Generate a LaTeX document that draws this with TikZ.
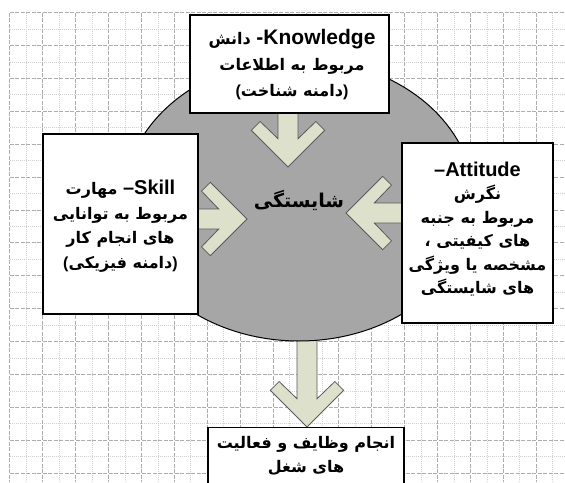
\documentclass[tikz,border=0pt]{standalone}
\usepackage{fontspec}
\usetikzlibrary{shapes.geometric}
\newfontfamily\fa[Script=Arabic]{DejaVu Sans}
\newfontfamily\en{Liberation Sans}
\TeXXeTstate=1
\newcommand\rtlx[1]{\beginR #1\endR}
\newcommand\lat[2]{{\en\fontsize{#1}{#1}\selectfont #2}}
\definecolor{arrowc}{HTML}{DDE0CB}
\definecolor{arrowline}{HTML}{5A5A5A}
\definecolor{corefill}{HTML}{A6A6A6}
\begin{document}
\begin{tikzpicture}[x=1pt,y=-1pt,
  major/.style={draw=black!32, line width=0.7pt, dash pattern=on 4pt off 1.5pt},
  minor/.style={draw=black!18, line width=0.7pt, dash pattern=on 1pt off 1pt},
  box/.style={draw=black, line width=1.3pt, fill=white, align=center, inner sep=2pt},
  fa/.style={font=\fa\bfseries\fontsize{16}{#1}\selectfont},
  arrowfill/.style={fill=arrowc, draw=arrowline, line width=0.8pt, line join=miter},
  pics/barrow/.style={code={
    \path[arrowfill] (0,0) -- (-36.7,36.7) -- (-45.5,27.9) -- (-28.3,10) -- (-#1,10)
      -- (-#1,-10) -- (-28.3,-10) -- (-45.5,-27.9) -- (-36.7,-36.7) -- cycle;}}
]
\useasboundingbox (0,0) rectangle (565,482);
\clip (0,0) rectangle (565,482);
\fill[white] (0,0) rectangle (565,482);
% grid
\foreach \i in {1,3,...,33} \draw[minor] ({9.8+16.45*\i},12.5) -- ({9.8+16.45*\i},482);
\foreach \j in {1,3,...,27} \draw[minor] (9.8,{12.5+16.45*\j}) -- (565,{12.5+16.45*\j});
\foreach \i in {0,2,...,32} \draw[major] ({9.8+16.45*\i},12.5) -- ({9.8+16.45*\i},482);
\foreach \j in {0,2,...,28} \draw[major] (9.8,{12.5+16.45*\j}) -- (565,{12.5+16.45*\j});

% arrow tips
\coordinate (tipT) at (288,167);
\coordinate (tipL) at (247,219);
\coordinate (tipR) at (346,213);
\coordinate (tipB) at (307,427);

% bottom arrow (behind the core)
\pic[rotate=-90] at (tipB) {barrow=110};

% core
\node[draw=black, line width=1pt, fill=corefill, ellipse, minimum width=350pt, minimum height=282pt,
  inner sep=0pt, font=\fa\bfseries\fontsize{19}{24}\selectfont] (core) at (299,200) {\rtlx{شایستگی}};

% arrows into the core
\pic[rotate=-90] at (tipT) {barrow=56};
\pic at (tipL) {barrow=52};
\pic[rotate=180] at (tipR) {barrow=58};

% boxes
\node[box, minimum width=199pt, minimum height=98pt] (know) at (289.5,64) {};
\node[fa=26, align=center] (knowtext) at (292,65)
  {\rtlx{دانش} \lat{21}{-Knowledge}\\ \rtlx{مربوط به اطلاعات}\\ \lat{16}{(}\rtlx{دامنه شناخت}\lat{16}{)}};
\node[box, minimum width=155pt, minimum height=180pt] (skill) at (120.5,224) {};
\node[fa=24.5, align=center] (skilltext) at (120.5,226)
  {\rtlx{مهارت} \lat{20}{–Skill}\\ \rtlx{مربوط به توانایی}\\ \rtlx{های انجام کار}\\ \lat{16}{(}\rtlx{دامنه فیزیکی}\lat{16}{)}};
\node[box, minimum width=151pt, minimum height=180pt] (att) at (477.5,233) {};
\node[fa=23.4, align=center] (atttext) at (477.5,229)
  {\lat{20}{–Attitude}\\ \rtlx{نگرش}\\ \rtlx{مربوط به جنبه}\\ \rtlx{های کیفیتی ،}\\ \rtlx{مشخصه یا ویژگی}\\ \rtlx{های شایستگی}};
\node[box, minimum width=196pt, minimum height=80pt, anchor=north] (job) at (306,427) {};
\node[fa=24, align=center] (jobtext) at (306,456)
  {\rtlx{انجام وظایف و فعالیت}\\ \rtlx{های شغل}};
\end{tikzpicture}
\end{document}
